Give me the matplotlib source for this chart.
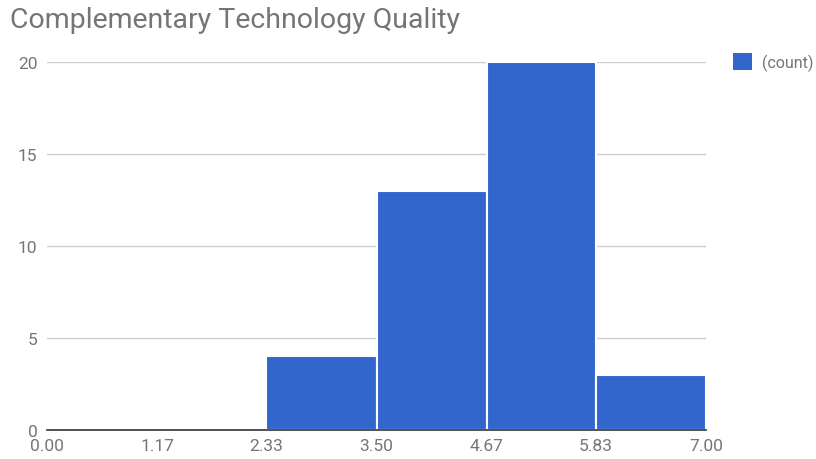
import matplotlib.pyplot as plt
from matplotlib.patches import Patch

# histogram bins and counts
bin_edges = [0.00, 1.17, 2.33, 3.50, 4.67, 5.83, 7.00]
bin_labels = ["0.00", "1.17", "2.33", "3.50", "4.67", "5.83", "7.00"]
counts = [0, 0, 4, 13, 20, 3]
y_ticks = [0, 5, 10, 15, 20]

plt.rcParams['font.family'] = ['Roboto', 'DejaVu Sans']

fig = plt.figure(figsize=(8.16, 4.6), dpi=100)
ax = fig.add_axes([47 / 816, 1 - 431 / 460, (706 - 47) / 816, (431 - 63) / 460])

widths = [bin_edges[i + 1] - bin_edges[i] for i in range(len(counts))]
ax.bar(bin_edges[:-1], counts, width=widths, align='edge', color='#3366cc',
       edgecolor='white', linewidth=1.5, zorder=2, clip_on=False)

ax.set_xlim(0, 7)
ax.set_ylim(0, 20)
ax.set_xticks(bin_edges)
ax.set_xticklabels(bin_labels)
ax.set_yticks(y_ticks)
ax.grid(axis='y', color='#cccccc', linewidth=1, zorder=0)
ax.set_axisbelow(True)

for s in ['top', 'right', 'left']:
    ax.spines[s].set_visible(False)
ax.spines['bottom'].set_color('#333333')
ax.spines['bottom'].set_linewidth(1.2)
ax.spines['bottom'].set_zorder(3)
ax.tick_params(axis='both', length=0, labelsize=12.5, colors='#757575')
ax.tick_params(axis='x', pad=6)
ax.tick_params(axis='y', pad=7)

fig.text(10 / 816, 1 - 20 / 460, "Complementary Technology Quality",
         fontsize=20.5, color='#757575', va='center', ha='left')

handles = [Patch(facecolor='#3366cc', label='(count)')]
fig.legend(handles=handles, loc='center left', bbox_to_anchor=(733 / 816, 1 - 63 / 460),
           frameon=False, fontsize=11.5, handlelength=1.2, handleheight=1.2,
           handletextpad=0.6, borderpad=0, borderaxespad=0, labelcolor='#757575')

fig.savefig("out.png", dpi=100)
